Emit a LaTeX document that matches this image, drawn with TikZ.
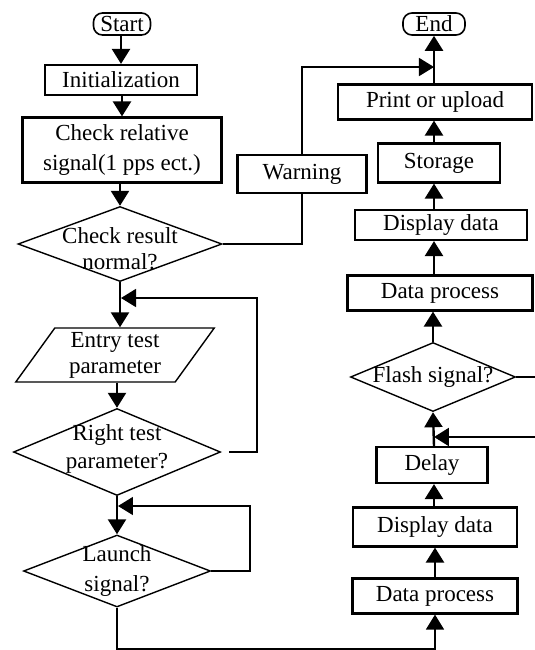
\documentclass[tikz,border=0pt]{standalone}
\usepackage{fontspec}
\setmainfont{Liberation Serif}
\usetikzlibrary{arrows.meta,shapes.geometric}

\begin{document}
\begin{tikzpicture}[x=0.5pt, y=-0.5pt, >={Triangle[width=9pt,length=7.5pt]},
  font=\fontsize{11.5}{13}\selectfont,
  box/.style={draw, line width=1.1pt, inner sep=0pt, align=center},
  term/.style={box, rounded corners=4.5pt, line width=0.8pt},
  decision/.style={draw, diamond, line width=0.7pt, inner sep=0pt},
  io/.style={draw, trapezium, trapezium left angle=57, trapezium right angle=123,
    trapezium stretches=true, line width=0.7pt, inner sep=0pt, align=center},
  arr/.style={->, line width=1.2pt},
  wire/.style={line width=0.8pt}]
  \useasboundingbox (0,0) rectangle (535,650);
  % left column
  \node[term, minimum width=28.5pt, minimum height=11pt] (start) at (122,24) {Start};
  \node[box, minimum width=76pt, minimum height=15pt] (init) at (121,80) {Initialization};
  \node[box, minimum width=99.5pt, minimum height=32.5pt,
    font=\fontsize{11.5}{15}\selectfont] (chkrel) at (122,150)
    {Check relative\\signal(1 pps ect.)};
  \node[decision, minimum width=102pt, minimum height=37.5pt,
    label={[align=center, yshift=-2.5pt]center:{Check result\\normal?}}] (chkres) at (120,244) {};
  \node[io, minimum width=100pt, minimum height=27pt] (entry) at (115,355)
    {Entry test\\parameter};
  \node[decision, minimum width=103.5pt, minimum height=43.5pt,
    label={[align=center, yshift=1.5pt, font=\fontsize{11.5}{14}\selectfont]center:{Right test\\parameter?}}] (right) at (117,452) {};
  \node[decision, minimum width=93.5pt, minimum height=36pt,
    label={[align=center, font=\fontsize{11.5}{15}\selectfont]center:{Launch\\signal?}}] (launch) at (117,571) {};
  \node[box, minimum width=64.5pt, minimum height=19pt] (warn) at (302,174) {Warning};
  % right column
  \node[term, minimum width=31pt, minimum height=11pt] (end) at (434,24) {End};
  \node[box, minimum width=97pt, minimum height=17.5pt] (print) at (435,102) {Print or upload};
  \node[box, minimum width=61pt, minimum height=19.5pt] (store) at (439,163) {Storage};
  \node[box, minimum width=86pt, minimum height=15pt] (disp1) at (441,225) {Display data};
  \node[box, minimum width=92.5pt, minimum height=17.5pt] (proc1) at (440,293) {Data process};
  \node[decision, minimum width=82.5pt, minimum height=34.5pt,
    label={center:Flash signal?}] (flash) at (433,377) {};
  \node[box, minimum width=55.5pt, minimum height=18pt] (delay) at (432,465) {Delay};
  \node[box, minimum width=82pt, minimum height=19.5pt] (disp2) at (435,527) {Display data};
  \node[box, minimum width=82.5pt, minimum height=17.5pt] (proc2) at (435,596) {Data process};

  \coordinate (jE) at (434,67);
  \coordinate (c1) at (257,298);
  \coordinate (j1) at (121,298);
  \coordinate (c2) at (250,506);
  \coordinate (j2) at (118,506);
  \coordinate (e1) at (536,377);
  \coordinate (e2) at (536,437);
  \coordinate (j3) at (434,437);

  \draw[arr] (start.south -| init) -- (init.north);
  \draw[arr] (init.south -| start) -- (chkrel.north -| start);
  \draw[arr] (chkrel.south -| chkres) -- (chkres.north);
  \draw[arr] (chkres.south) -- (entry.north -| chkres);
  \draw[arr] (entry.south -| right) -- (right.north);
  \draw[arr] (right.south) -- (launch.north);
  \draw[wire] (chkres.east) -| (warn.south);
  \draw[wire,->] (warn.north) |- (jE);
  \draw[wire,->] ([xshift=4pt]right.east) -| (c1) -- (j1);
  \draw[wire,->] (launch.east) -| (c2) -- (j2);
  \draw[wire,->] (launch.south) -- ++(0,41) -| (proc2.south);

  \draw[arr] (proc2.north) -- (disp2.south);
  \draw[arr] (disp2.north -| end) -- (delay.south -| end);
  \draw[arr] (delay.north -| end) -- (flash.south);
  \draw[arr] (flash.north) -- (proc1.south -| flash);
  \draw[arr] (proc1.north -| end) -- (disp1.south -| end);
  \draw[arr] (disp1.north -| end) -- (store.south -| end);
  \draw[arr] (store.north -| end) -- (print.south -| end);
  \draw[arr] (print.north -| end) -- (end.south);
  \draw[wire] (flash.east) -- (e1);
  \draw[arr] (e2) -- (j3);
\end{tikzpicture}
\end{document}
